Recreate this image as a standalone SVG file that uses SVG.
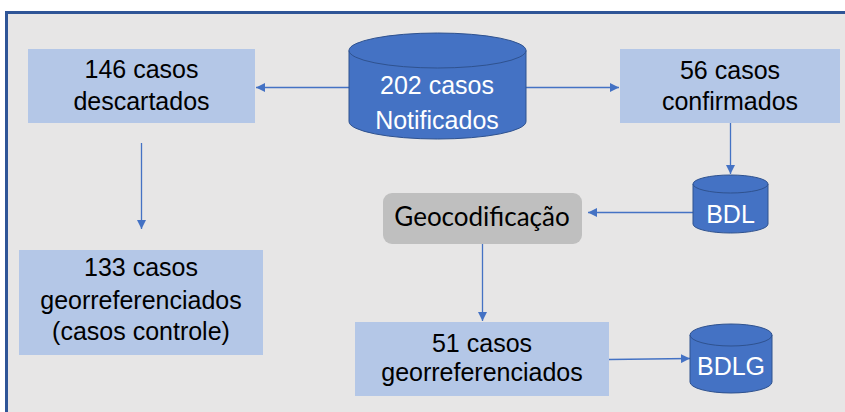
<svg xmlns="http://www.w3.org/2000/svg" width="845" height="412" viewBox="0 0 845 412">
<defs>
<style>
.box{fill:#B4C7E7;}
.t{font-family:"Liberation Sans",Arial,sans-serif;font-size:25px;fill:#000;text-anchor:middle;}
.tw{font-family:"Liberation Sans",Arial,sans-serif;font-size:25px;fill:#fff;text-anchor:middle;}
.cyl{fill:#4472C4;stroke:#2F528F;stroke-width:1;}
.con{stroke:#4472C4;stroke-width:1.3;fill:none;marker-end:url(#ah);}
</style>
<marker id="ah" viewBox="0 0 10 10" refX="10" refY="5" markerUnits="userSpaceOnUse" markerWidth="9" markerHeight="9" orient="auto">
<path d="M0,0 L10,5 L0,10 z" fill="#4472C4"/>
</marker>
</defs>
<rect x="0" y="0" width="845" height="412" fill="#fff"/>
<rect x="6.5" y="12.5" width="850" height="410" fill="#E7E6E6" stroke="#2F5597" stroke-width="3"/>

<g id="connectors">
<line class="con" x1="349" y1="87.5" x2="256" y2="87.5"/>
<line class="con" x1="526" y1="87.5" x2="619" y2="87.5"/>
<line class="con" x1="141.5" y1="143" x2="141.5" y2="229"/>
<line class="con" x1="730.5" y1="123" x2="730.5" y2="174"/>
<line class="con" x1="693" y1="212.5" x2="588" y2="212.5"/>
<line class="con" x1="482.5" y1="244" x2="482.5" y2="321"/>
<line class="con" x1="609" y1="359.5" x2="690" y2="358.5"/>
</g>

<g id="n_notificados">
<path class="cyl" d="M349,50.5 V121.5 A88.5,17.5 0 0 0 526,121.5 V50.5"/>
<ellipse class="cyl" cx="437.5" cy="50.5" rx="88.5" ry="17.5"/>
<text class="tw" x="437" y="94">202 casos</text>
<text class="tw" x="437" y="129">Notificados</text>
</g>

<g id="n_descartados">
<rect class="box" x="28" y="49" width="227" height="74"/>
<text class="t" x="141.5" y="78">146 casos</text>
<text class="t" x="141.5" y="110">descartados</text>
</g>

<g id="n_confirmados">
<rect class="box" x="620" y="49" width="220" height="74"/>
<text class="t" x="730" y="79">56 casos</text>
<text class="t" x="730" y="110">confirmados</text>
</g>

<g id="n_controle">
<rect class="box" x="19" y="250" width="244" height="105"/>
<text class="t" x="141" y="276">133 casos</text>
<text class="t" x="141" y="309">georreferenciados</text>
<text class="t" x="141" y="340">(casos controle)</text>
</g>

<g id="n_bdl">
<path class="cyl" d="M693,184 V224 A37.5,9 0 0 0 768,224 V184"/>
<ellipse class="cyl" cx="730.5" cy="184" rx="37.5" ry="9"/>
<text class="tw" x="730.5" y="223">BDL</text>
</g>

<g id="n_geocod">
<rect x="383" y="193" width="199" height="51" rx="9" fill="#BFBFBF"/>
<text x="482" y="226" font-family="Lato,'Open Sans',sans-serif" font-size="26" fill="#000" text-anchor="middle">Geocodificação</text>
</g>

<g id="n_georef">
<rect class="box" x="355" y="322" width="254" height="74"/>
<text class="t" x="482" y="352">51 casos</text>
<text class="t" x="482" y="381">georreferenciados</text>
</g>

<g id="n_bdlg">
<path class="cyl" d="M690,335 V382 A41,11 0 0 0 772,382 V335"/>
<ellipse class="cyl" cx="731" cy="335" rx="41" ry="11"/>
<text class="tw" x="731" y="375">BDLG</text>
</g>
</svg>
